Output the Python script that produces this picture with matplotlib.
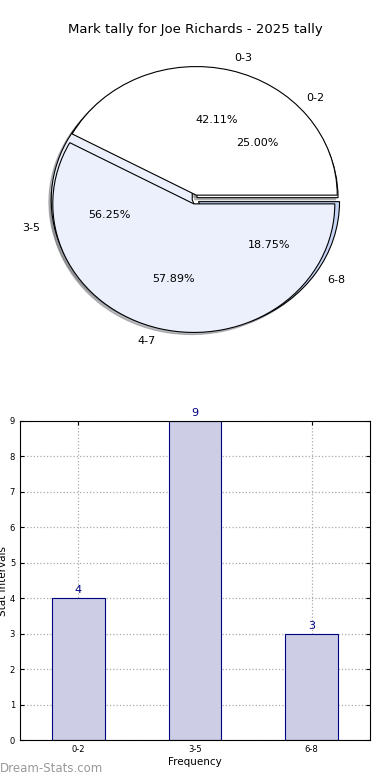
import matplotlib
matplotlib.use("Agg")
import matplotlib.pyplot as plt

# data
coarse_labels = ['0-3', '4-7']
coarse_counts = [8, 11]
fine_labels = ['0-2', '3-5', '6-8']
fine_counts = [4, 9, 3]

title = "Mark tally for Joe Richards - 2025 tally"

fig = plt.figure(figsize=(3.9, 7.8), dpi=100)

# pie part (two pies overlaid, old-style non-equal aspect)
shadow_kw = {'ox': -0.012, 'oy': -0.012, 'shade': 0.5}
ax1 = fig.add_axes([20/390, 1 - 352/780, 350/390, 305/780])
ax1.pie(fine_counts, labels=fine_labels, autopct='%.2f%%', startangle=0,
        colors=['white', '#ebf0fc', '#c6d5f5'], explode=(0.02, 0.02, 0.03),
        shadow=shadow_kw, wedgeprops={'linewidth': 0.8, 'edgecolor': 'black'},
        textprops={'fontsize': 8}, labeldistance=1.1, pctdistance=0.6)
ax1.pie(coarse_counts, labels=coarse_labels, autopct='%.2f%%', startangle=0,
        colors=['white', '#ebf0fc'], explode=(0.035, 0.035),
        shadow=shadow_kw, wedgeprops={'linewidth': 0.8, 'edgecolor': 'black'},
        textprops={'fontsize': 8}, labeldistance=1.1, pctdistance=0.6)
ax1.set_aspect('auto')
ax1.set_xlim(-1.241, 1.241)
ax1.set_ylim(-1.186, 1.186)
ax1.axis('off')
fig.text(0.5, 1 - 30/780, title, ha='center', va='center', fontsize=9.5)

# bar part
ax2 = fig.add_axes([20/390, 40/780, 350/390, 319/780])
xs = range(len(fine_labels))
ax2.bar(xs, fine_counts, width=0.45, color='#cdcde6', edgecolor='navy', linewidth=0.8, zorder=2)
for x, v in zip(xs, fine_counts):
    ax2.text(x, v + 0.08, str(v), ha='center', va='bottom', color='navy', fontsize=8)
ax2.set_xlim(-0.5, 2.5)
ax2.set_ylim(0, 9)
ax2.set_xticks(list(xs))
ax2.set_xticklabels(fine_labels)
ax2.set_yticks(range(10))
ax2.tick_params(labelsize=6, direction='in', top=True, right=True, length=3)
ax2.grid(True, linestyle=':', color='#aaaaaa', linewidth=0.9)
ax2.set_axisbelow(True)
ax2.set_ylabel('Stat intervals', fontsize=7.5, labelpad=1)
ax2.set_xlabel('Frequency', fontsize=7.5, labelpad=2)

fig.text(0.0, 5/780, 'Dream-Stats.com', fontsize=8.5, color='#999999',
         ha='left', va='bottom')

fig.savefig('out.png', dpi=100)
